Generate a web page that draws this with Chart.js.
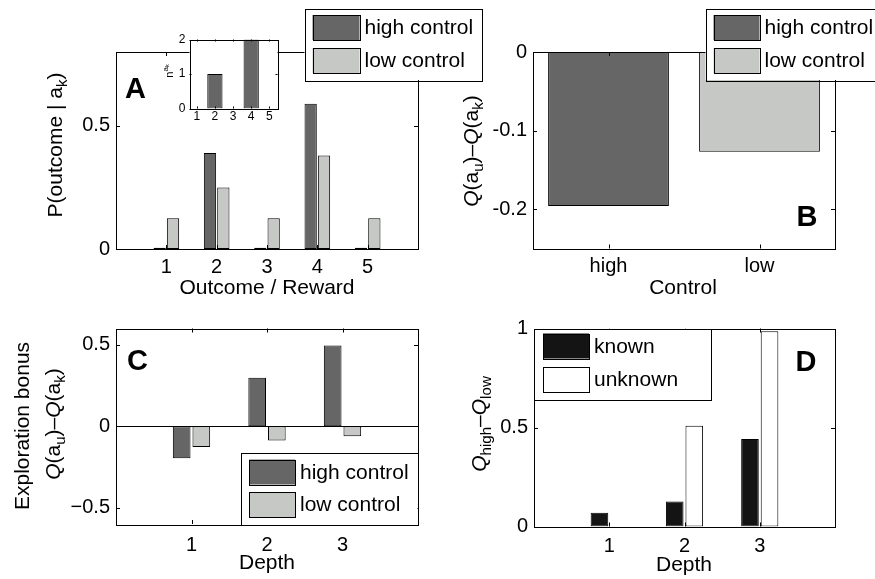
<!DOCTYPE html>
<html>
<head>
<meta charset="utf-8">
<script src="https://cdn.jsdelivr.net/npm/chart.js@4.4.0/dist/chart.umd.min.js"></script>
<style>
  html, body { margin: 0; padding: 0; background: #fff; }
  #wrap { position: relative; width: 875px; height: 579px; overflow: hidden; }
  #wrap canvas { position: absolute; left: 0; top: 0; }
</style>
</head>
<body>
<div id="wrap">
  <canvas id="chartA" width="875" height="579"></canvas>
  <canvas id="chartB" width="875" height="579"></canvas>
  <canvas id="chartC" width="875" height="579"></canvas>
  <canvas id="chartD" width="875" height="579"></canvas>
  <canvas id="chartInset" width="875" height="579"></canvas>
</div>
<script>
// --- data ---
const outcomes = [1, 2, 3, 4, 5];
const highControlProb = [0.005, 0.39, 0.005, 0.59, 0.005];
const lowControlProb = [0.125, 0.25, 0.125, 0.38, 0.125];
const insetCounts = [0, 1, 0, 2, 0];

const controlLevels = ['high', 'low'];
const qDiffByControl = [-0.196, -0.127];

const depths = [1, 2, 3];
const bonusHigh = [-0.197, 0.298, 0.496];
const bonusLow = [-0.127, -0.088, -0.061];
const diffKnown = [0.07, 0.126, 0.442];
const diffUnknown = [0, 0.509, 0.986];

// tick values / labels
const yTicksA = [0, 0.5], yLabelsA = ['0', '0.5'];
const yTicksInset = [0, 1, 2], yLabelsInset = ['0', '1', '2'];
const yTicksB = [-0.2, -0.1, 0], yLabelsB = ['-0.2', '-0.1', '0'];
const yTicksC = [-0.5, 0, 0.5], yLabelsC = ['\u22120.5', '0', '0.5'];
const yTicksD = [0, 0.5, 1], yLabelsD = ['0', '0.5', '1'];

const W = 875, H = 579;
const FONT = "'Liberation Sans', Arial, Helvetica, sans-serif";
const DARK = '#666666', LIGHT = '#c6c8c6', KNOWN = '#141414', UNKNOWN = '#ffffff';

Chart.defaults.font.family = FONT;
Chart.defaults.font.size = 20;
Chart.defaults.color = '#000';

// rich text pieces (for subscripts in axis titles)
const N = t => ({ t });
const I = t => ({ t, i: true });
const SUB = t => ({ t, s: 0.72, dy: 0.32 });
const SUP = t => ({ t, s: 0.72, dy: -0.38 });

function drawRich(ctx, parts, x, y, size, rotate, bold) {
  ctx.save();
  ctx.translate(x, y);
  if (rotate) ctx.rotate(-Math.PI / 2);
  ctx.textBaseline = 'middle';
  ctx.textAlign = 'left';
  ctx.fillStyle = '#000';
  let total = 0;
  const items = parts.map(p => {
    const font = (p.i ? 'italic ' : '') + (bold ? 'bold ' : '') + (size * (p.s || 1)) + 'px ' + FONT;
    ctx.font = font;
    const w = ctx.measureText(p.t).width;
    total += w;
    return { t: p.t, w, font, dy: (p.dy || 0) * size };
  });
  let cx = -total / 2;
  items.forEach(it => {
    ctx.font = it.font;
    ctx.fillText(it.t, cx, it.dy);
    cx += it.w;
  });
  ctx.restore();
}

// matlab style box, inward ticks, free legend and labels
const matlabAxes = {
  id: 'matlabAxes',
  beforeDatasetsDraw(chart, args, o) {
    if (!o.whiteFill) return;
    const a = chart.chartArea, ctx = chart.ctx;
    ctx.save();
    ctx.fillStyle = '#fff';
    ctx.fillRect(a.left, a.top, a.right - a.left, a.bottom - a.top);
    ctx.restore();
  },
  afterDatasetsDraw(chart, args, o) {
    const ctx = chart.ctx, a = chart.chartArea;
    const xs = chart.scales.x, ys = chart.scales.y;
    const tl = o.tickLen || 4;
    const r = v => Math.round(v) + 0.5;
    ctx.save();
    ctx.strokeStyle = '#000';
    ctx.lineWidth = 1;
    ctx.beginPath();
    if (o.baseline) {
      const y0 = r(ys.getPixelForValue(0));
      ctx.moveTo(a.left, y0); ctx.lineTo(a.right, y0);
    }
    xs.ticks.forEach(t => {
      const px = r(xs.getPixelForValue(t.value));
      ctx.moveTo(px, a.bottom); ctx.lineTo(px, a.bottom - tl);
      ctx.moveTo(px, a.top); ctx.lineTo(px, a.top + tl);
    });
    ys.ticks.forEach(t => {
      const py = r(ys.getPixelForValue(t.value));
      ctx.moveTo(a.left, py); ctx.lineTo(a.left + tl, py);
      ctx.moveTo(a.right, py); ctx.lineTo(a.right - tl, py);
    });
    ctx.stroke();
    ctx.strokeRect(r(a.left), r(a.top), Math.round(a.right - a.left), Math.round(a.bottom - a.top));
    ctx.restore();
  },
  afterDraw(chart, args, o) {
    const ctx = chart.ctx;
    if (o.legend) {
      const lg = o.legend;
      ctx.save();
      ctx.fillStyle = '#fff';
      ctx.fillRect(lg.x, lg.y, lg.w, lg.h);
      ctx.strokeStyle = '#000';
      ctx.lineWidth = 1;
      ctx.strokeRect(Math.round(lg.x) + 0.5, Math.round(lg.y) + 0.5, Math.round(lg.w), Math.round(lg.h));
      chart.data.datasets.forEach((ds, i) => {
        const sy = lg.rows[i];
        ctx.fillStyle = ds.backgroundColor;
        ctx.fillRect(lg.sx, sy, lg.sw, lg.sh);
        ctx.strokeStyle = '#000';
        ctx.strokeRect(Math.round(lg.sx) + 0.5, Math.round(sy) + 0.5, Math.round(lg.sw), Math.round(lg.sh));
        ctx.fillStyle = '#000';
        ctx.font = lg.size + 'px ' + FONT;
        ctx.textBaseline = 'middle';
        ctx.textAlign = 'left';
        ctx.fillText(ds.label, lg.sx + lg.sw + 5, sy + lg.sh / 2 + 1);
      });
      ctx.restore();
    }
    (o.texts || []).forEach(t => drawRich(ctx, t.parts, t.x, t.y, t.size, t.rotate, t.bold));
  }
};
Chart.register(matlabAxes);

function axisScales(box, xr, xTicks, xLabels, xPad, yr, yTicks, yLabels, yPad, fontSize) {
  const lab = (ticks, labels) => v => { const i = ticks.indexOf(v); return i < 0 ? '' : labels[i]; };
  return {
    x: {
      type: 'linear', min: xr[0], max: xr[1], offset: false,
      grid: { display: false, drawTicks: false }, border: { display: false },
      ticks: { padding: xPad, autoSkip: false, maxRotation: 0, font: { size: fontSize }, callback: lab(xTicks, xLabels) },
      afterBuildTicks: s => { s.ticks = xTicks.map(v => ({ value: v })); },
      afterFit: s => { s.height = H - box[3]; }
    },
    y: {
      type: 'linear', min: yr[0], max: yr[1],
      grid: { display: false, drawTicks: false }, border: { display: false },
      ticks: { padding: yPad, autoSkip: false, font: { size: fontSize }, callback: lab(yTicks, yLabels) },
      afterBuildTicks: s => { s.ticks = yTicks.map(v => ({ value: v })); },
      afterFit: s => { s.width = box[0]; }
    }
  };
}

function barSet(label, xs, ys, color, bp, cp, extra) {
  return Object.assign({
    label,
    data: xs.map((x, i) => ({ x, y: ys[i] })),
    backgroundColor: color,
    borderColor: '#000',
    borderWidth: 1,
    borderSkipped: false,
    barPercentage: bp,
    categoryPercentage: cp
  }, extra || {});
}

function makeChart(id, datasets, scales, box, deco) {
  return new Chart(document.getElementById(id), {
    type: 'bar',
    data: { datasets },
    options: {
      responsive: false,
      animation: false,
      events: [],
      layout: { padding: { left: 0, top: box[1], right: W - box[2], bottom: 0 } },
      scales,
      plugins: { legend: { display: false }, tooltip: { enabled: false }, matlabAxes: deco }
    }
  });
}

// --- A ---
const boxA = [116, 52, 418, 249];
makeChart('chartA', [
  barSet('high control', outcomes, highControlProb, DARK, 0.92, 0.53),
  barSet('low control', outcomes, lowControlProb, LIGHT, 0.92, 0.53)
], axisScales(boxA, [0, 6], outcomes, outcomes.map(String), 6, [0, 0.8], yTicksA, yLabelsA, 6, 20), boxA, {
  legend: { x: 304.5, y: 8.5, w: 177, h: 71.5, sx: 312.5, sw: 47, sh: 25, rows: [15, 48], size: 21 },
  texts: [
    { parts: [N('P(outcome | a'), SUB('k'), N(')')], x: 56, y: 145, size: 21, rotate: true },
    { parts: [N('Outcome / Reward')], x: 267, y: 288, size: 21 },
    { parts: [N('A')], x: 135.5, y: 90, size: 29, bold: true }
  ]
});

// --- inset in A ---
const boxIn = [189.5, 39.5, 277.5, 108.5];
makeChart('chartInset', [
  barSet('count', outcomes, insetCounts, DARK, 0.84, 1)
], axisScales(boxIn, [0.6, 5.45], outcomes, outcomes.map(String), 1, [0, 2], yTicksInset, yLabelsInset, 4, 12), boxIn, {
  whiteFill: true,
  tickLen: 2,
  texts: [
    { parts: [N('n'), SUP('a'), { t: 'k', s: 0.5, dy: -0.2 }], x: 170, y: 71, size: 11, rotate: true }
  ]
});

// --- B ---
const boxB = [533, 52, 835, 248.5];
makeChart('chartB', controlLevels.map((lvl, i) =>
  barSet(lvl + ' control', [i + 1], [qDiffByControl[i]], i === 0 ? DARK : LIGHT, 0.8, 1, { grouped: false })
), axisScales(boxB, [0.5, 2.5], [1, 2], controlLevels, 6, [-0.25, 0], yTicksB, yLabelsB, 6, 20), boxB, {
  legend: { x: 705.5, y: 8.5, w: 169, h: 71.5, sx: 713.5, sw: 46, sh: 25, rows: [15, 48], size: 21 },
  texts: [
    { parts: [I('Q'), N('(a'), SUB('u'), N(')\u2013'), I('Q'), N('(a'), SUB('k'), N(')')], x: 472, y: 151, size: 21, rotate: true },
    { parts: [N('Control')], x: 683, y: 288, size: 21 },
    { parts: [N('B')], x: 807, y: 217.5, size: 29, bold: true }
  ]
});

// --- C ---
const boxC = [116, 328.5, 418, 524];
makeChart('chartC', [
  barSet('high control', depths, bonusHigh, DARK, 0.9, 0.52),
  barSet('low control', depths, bonusLow, LIGHT, 0.9, 0.52)
], axisScales(boxC, [0, 4], depths, depths.map(String), 9, [-0.6, 0.6], yTicksC, yLabelsC, 6, 20), boxC, {
  baseline: true,
  legend: { x: 240.5, y: 452.5, w: 177, h: 71.5, sx: 249, sw: 46, sh: 25, rows: [459.5, 492], size: 21 },
  texts: [
    { parts: [N('Exploration bonus')], x: 23, y: 426, size: 21, rotate: true },
    { parts: [I('Q'), N('(a'), SUB('u'), N(')\u2013'), I('Q'), N('(a'), SUB('k'), N(')')], x: 54, y: 424, size: 21, rotate: true },
    { parts: [N('Depth')], x: 267, y: 563, size: 21 },
    { parts: [N('C')], x: 137.5, y: 361.5, size: 29, bold: true }
  ]
});

// --- D ---
const boxD = [534, 328.5, 835, 526.5];
makeChart('chartD', [
  barSet('known', depths, diffKnown, KNOWN, 0.9, 0.52),
  barSet('unknown', depths, diffUnknown, UNKNOWN, 0.9, 0.52)
], axisScales(boxD, [0, 4], depths, depths.map(String), 8, [0, 1], yTicksD, yLabelsD, 6, 20), boxD, {
  legend: { x: 534, y: 328.5, w: 177, h: 71, sx: 543, sw: 46, sh: 25, rows: [333.5, 366.5], size: 21 },
  texts: [
    { parts: [I('Q'), SUB('high'), N('\u2013'), I('Q'), SUB('low')], x: 480, y: 424, size: 21, rotate: true },
    { parts: [N('Depth')], x: 684, y: 565, size: 21 },
    { parts: [N('D')], x: 806, y: 363, size: 29, bold: true }
  ]
});
</script>
</body>
</html>
